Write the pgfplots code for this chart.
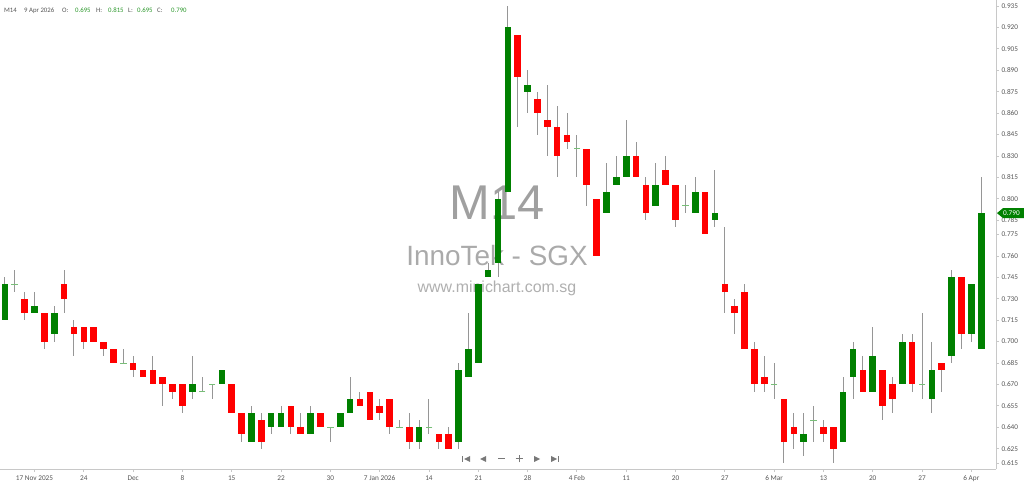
\documentclass[border=0pt]{standalone}
\usepackage{pgfplots}
\pgfplotsset{compat=1.18}
\usepackage{pgfplotstable}
\usepackage{fontspec}
\setmainfont{Carlito}
\newfontfamily\wmfont{Liberation Sans}

\definecolor{upgreen}{RGB}{0,128,0}
\definecolor{downred}{RGB}{255,0,0}
\definecolor{wickgray}{RGB}{150,150,150}
\definecolor{dojigreen}{RGB}{120,190,120}
\definecolor{txtgray}{RGB}{85,85,85}
\definecolor{hdrgreen}{RGB}{40,150,40}
\definecolor{axgray}{RGB}{200,200,200}
\definecolor{navgray}{RGB}{120,120,120}
\definecolor{wmA}{RGB}{160,160,160}
\definecolor{wmB}{RGB}{170,170,170}
\definecolor{wmC}{RGB}{175,175,175}

% trading day index, open, high, low, close
\pgfplotstableread{
x  o     h     l     c
0  0.715 0.745 0.715 0.740
3  0.720 0.735 0.720 0.725
5  0.705 0.725 0.700 0.720
19 0.665 0.690 0.660 0.670
22 0.670 0.680 0.670 0.680
25 0.630 0.655 0.630 0.650
27 0.640 0.650 0.635 0.650
28 0.640 0.655 0.640 0.650
31 0.635 0.655 0.635 0.650
34 0.640 0.650 0.640 0.650
35 0.650 0.675 0.650 0.660
42 0.630 0.645 0.625 0.640
46 0.630 0.685 0.625 0.680
47 0.675 0.720 0.675 0.695
48 0.685 0.740 0.685 0.740
49 0.745 0.755 0.745 0.750
50 0.755 0.805 0.745 0.800
51 0.805 0.935 0.805 0.920
53 0.875 0.890 0.860 0.880
61 0.790 0.825 0.790 0.805
62 0.810 0.830 0.810 0.815
63 0.815 0.855 0.815 0.830
66 0.795 0.825 0.795 0.810
70 0.790 0.815 0.790 0.805
72 0.785 0.820 0.780 0.790
81 0.630 0.650 0.620 0.635
85 0.630 0.675 0.630 0.665
86 0.675 0.700 0.660 0.695
88 0.665 0.710 0.665 0.690
91 0.670 0.705 0.670 0.700
94 0.660 0.700 0.650 0.680
96 0.690 0.750 0.685 0.745
98 0.705 0.740 0.700 0.740
99 0.695 0.815 0.695 0.790
}\upcandles

\pgfplotstableread{
x  o     h     l     c
2  0.730 0.735 0.715 0.720
4  0.720 0.720 0.695 0.700
6  0.740 0.750 0.720 0.730
7  0.710 0.715 0.690 0.705
8  0.710 0.710 0.695 0.700
9  0.710 0.710 0.700 0.700
10 0.700 0.700 0.690 0.695
11 0.695 0.695 0.685 0.685
13 0.685 0.690 0.675 0.680
14 0.680 0.680 0.675 0.675
15 0.680 0.690 0.670 0.670
16 0.675 0.675 0.655 0.670
17 0.670 0.670 0.660 0.665
18 0.670 0.670 0.650 0.655
23 0.670 0.670 0.650 0.650
24 0.650 0.650 0.630 0.635
26 0.645 0.650 0.625 0.630
29 0.655 0.655 0.635 0.640
30 0.640 0.650 0.635 0.635
32 0.650 0.650 0.640 0.640
36 0.660 0.665 0.655 0.655
37 0.665 0.665 0.645 0.645
38 0.655 0.660 0.645 0.650
39 0.660 0.660 0.635 0.640
41 0.640 0.650 0.625 0.630
44 0.635 0.635 0.625 0.630
45 0.635 0.640 0.625 0.625
52 0.915 0.915 0.850 0.885
54 0.870 0.875 0.845 0.860
55 0.855 0.880 0.830 0.850
56 0.850 0.865 0.815 0.830
57 0.845 0.860 0.835 0.840
59 0.835 0.835 0.795 0.810
60 0.800 0.800 0.760 0.760
64 0.830 0.840 0.815 0.815
65 0.810 0.815 0.785 0.790
67 0.820 0.830 0.810 0.810
68 0.810 0.810 0.780 0.785
71 0.805 0.805 0.775 0.775
73 0.740 0.780 0.720 0.735
74 0.725 0.730 0.705 0.720
75 0.735 0.740 0.695 0.695
76 0.695 0.700 0.665 0.670
77 0.675 0.690 0.665 0.670
79 0.660 0.660 0.615 0.630
80 0.640 0.650 0.625 0.635
83 0.640 0.645 0.630 0.635
84 0.640 0.640 0.615 0.625
87 0.680 0.690 0.665 0.665
89 0.680 0.680 0.645 0.655
90 0.670 0.675 0.650 0.660
92 0.700 0.705 0.665 0.670
95 0.685 0.685 0.665 0.680
97 0.745 0.745 0.695 0.705
}\downcandles

\pgfplotstableread{
x  o     h     l     c
1  0.740 0.750 0.735 0.740
12 0.685 0.695 0.685 0.685
20 0.665 0.675 0.665 0.665
21 0.670 0.670 0.660 0.670
33 0.640 0.640 0.630 0.640
40 0.640 0.645 0.640 0.640
43 0.640 0.660 0.635 0.640
58 0.835 0.845 0.815 0.835
69 0.795 0.810 0.790 0.795
78 0.670 0.685 0.660 0.670
82 0.645 0.655 0.630 0.645
93 0.670 0.720 0.660 0.670
}\dojicandles

\pgfplotsset{
  wick/.style={draw=none, mark=none, forget plot,
    error bars/.cd, y dir=both, y explicit, error mark=none,
    error bar style={line width=1bp, draw=wickgray}},
  body/.style={draw=none, mark=none, forget plot,
    error bars/.cd, y dir=both, y explicit, error mark=none,
    error bar style={line width=6.6bp, draw=#1}},
}

\begin{document}
\begin{tikzpicture}
% watermark behind the candles
\node[font=\wmfont\fontsize{49}{50}\selectfont, text=wmA] at (497bp,266bp) {M14};
\node[font=\wmfont\fontsize{28}{30}\selectfont, text=wmB] at (497bp,213bp) {InnoTek - SGX};
\node[anchor=base, font=\wmfont\fontsize{16}{18}\selectfont, text=wmC] at (497bp,176bp) {www.minichart.com.sg};

\begin{axis}[
  at={(0,0)}, anchor=south west,
  scale only axis, width=996bp, height=469bp,
  xmin=-0.5, xmax=100.5, ymin=0.6108, ymax=0.9392,
  axis x line*=bottom, axis y line*=right,
  axis line style={draw=axgray, -},
  xtick={3,8,...,98},
  xticklabels={17 Nov 2025,24,Dec,8,15,22,30,7 Jan 2026,14,21,28,4 Feb,11,20,27,6 Mar,13,20,27,6 Apr},
  ytick={0.615,0.625,0.640,0.655,0.670,0.685,0.700,0.715,0.730,0.745,0.760,0.775,0.785,0.800,0.815,0.830,0.845,0.860,0.875,0.890,0.905,0.920,0.935},
  /pgf/number format/fixed, /pgf/number format/fixed zerofill,
  /pgf/number format/precision=3, /pgf/number format/assume math mode=true,
  scaled y ticks=false,
  tick style={draw=axgray, line width=0.8bp},
  major tick length=3bp, tick align=outside,
  tick label style={font=\fontsize{7.3}{8}\selectfont, text=txtgray},
  yticklabel style={xshift=-1bp},
  clip mode=individual,
]
\addplot[wick] table[x=x, y expr={(\thisrow{h}+\thisrow{l})/2}, y error expr={(\thisrow{h}-\thisrow{l})/2}] {\upcandles};
\addplot[wick] table[x=x, y expr={(\thisrow{h}+\thisrow{l})/2}, y error expr={(\thisrow{h}-\thisrow{l})/2}] {\downcandles};
\addplot[wick] table[x=x, y expr={(\thisrow{h}+\thisrow{l})/2}, y error expr={(\thisrow{h}-\thisrow{l})/2}] {\dojicandles};
\addplot[body=upgreen] table[x=x, y expr={(\thisrow{o}+\thisrow{c})/2}, y error expr={(\thisrow{c}-\thisrow{o})/2}] {\upcandles};
\addplot[body=downred] table[x=x, y expr={(\thisrow{o}+\thisrow{c})/2}, y error expr={(\thisrow{o}-\thisrow{c})/2}] {\downcandles};
\addplot[only marks, mark=-, mark size=3.3bp, mark options={line width=1bp, draw=dojigreen}] table[x=x, y=c] {\dojicandles};
\end{axis}

% last price tag (0.790 sits at 255.9bp above the axis bottom)
\fill[upgreen] (997bp,255.9bp) -- (1003bp,260.9bp) -- (1024bp,260.9bp) -- (1024bp,250.9bp) -- (1003bp,250.9bp) -- cycle;
\node[anchor=west, inner sep=0pt, text=white, font=\fontsize{7.3}{8}\selectfont] at (1003bp,255.9bp) {0.790};

% header line
\begin{scope}[every node/.style={anchor=base west, inner sep=0pt, font=\fontsize{6.8}{7}\selectfont}]
\node[text=txtgray] at (4bp,456bp) {M14};
\node[text=txtgray] at (24bp,456bp) {9 Apr 2026};
\node[text=txtgray] at (62bp,456bp) {O:};
\node[text=hdrgreen] at (75bp,456bp) {0.695};
\node[text=txtgray] at (96bp,456bp) {H:};
\node[text=hdrgreen] at (108bp,456bp) {0.815};
\node[text=txtgray] at (128bp,456bp) {L:};
\node[text=hdrgreen] at (137bp,456bp) {0.695};
\node[text=txtgray] at (157bp,456bp) {C:};
\node[text=hdrgreen] at (171bp,456bp) {0.790};
\end{scope}

% navigation buttons
\begin{scope}[navgray]
\fill (462bp,7bp) rectangle (463.2bp,13bp);
\fill (464bp,10bp) -- (470bp,13bp) -- (470bp,7bp) -- cycle;
\fill (480bp,10bp) -- (486bp,13bp) -- (486bp,7bp) -- cycle;
\draw[line width=1bp] (498bp,10bp) -- (505bp,10bp);
\draw[line width=1bp] (515.5bp,10bp) -- (522.5bp,10bp) (519bp,6.5bp) -- (519bp,13.5bp);
\fill (540bp,10bp) -- (534bp,13bp) -- (534bp,7bp) -- cycle;
\fill (557bp,10bp) -- (551bp,13bp) -- (551bp,7bp) -- cycle;
\fill (557.8bp,7bp) rectangle (559bp,13bp);
\end{scope}

\pgfresetboundingbox
\path[use as bounding box] (0,-15bp) rectangle (1024bp,469bp);
\end{tikzpicture}
\end{document}
